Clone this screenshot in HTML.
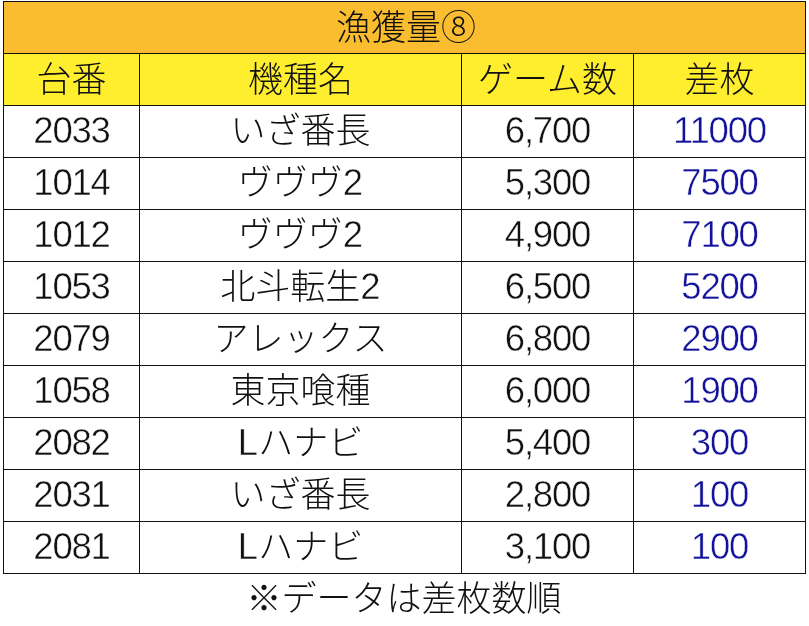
<!DOCTYPE html><html lang="ja"><head><meta charset="utf-8"><title>漁獲量⑧</title><style>
html,body{margin:0;padding:0;background:#fff;}
body{width:809px;height:626px;position:relative;overflow:hidden;font-family:"Liberation Sans","Noto Sans CJK JP",sans-serif;font-weight:300;color:#111;}
.c{position:absolute;box-sizing:border-box;border:1px solid #111;text-align:center;white-space:nowrap;font-size:35px;line-height:52px;height:53px;}
.t{background:#fbbd30;}
.h{background:#ffee2e;}
.b{color:#12129a;}
.d{line-height:50px;-webkit-text-stroke:0.5px #fff;font-size:36.5px;letter-spacing:-1.2px;}
.m{line-height:50px;}
.l{-webkit-text-stroke:0.5px #fff;font-size:36.5px;}
.n{position:absolute;left:0;width:808px;top:576px;height:50px;line-height:46px;text-align:center;font-size:35px;}
</style></head><body>
<div class="c t" style="left:3px;top:1px;width:803px;padding-left:3px;">漁獲量⑧</div>
<div class="c h" style="left:3px;top:53px;width:137px;">台番</div>
<div class="c h" style="left:139px;top:53px;width:323px;">機種名</div>
<div class="c h" style="left:461px;top:53px;width:173px;">ゲーム数</div>
<div class="c h" style="left:633px;top:53px;width:173px;">差枚</div>
<div class="c d" style="left:3px;top:105px;width:137px;">2033</div>
<div class="c m" style="left:139px;top:105px;width:323px;">いざ番長</div>
<div class="c d" style="left:461px;top:105px;width:173px;">6,700</div>
<div class="c b d" style="left:633px;top:105px;width:173px;">11000</div>
<div class="c d" style="left:3px;top:157px;width:137px;">1014</div>
<div class="c m" style="left:139px;top:157px;width:323px;">ヴヴヴ<span class="l">2</span></div>
<div class="c d" style="left:461px;top:157px;width:173px;">5,300</div>
<div class="c b d" style="left:633px;top:157px;width:173px;">7500</div>
<div class="c d" style="left:3px;top:209px;width:137px;">1012</div>
<div class="c m" style="left:139px;top:209px;width:323px;">ヴヴヴ<span class="l">2</span></div>
<div class="c d" style="left:461px;top:209px;width:173px;">4,900</div>
<div class="c b d" style="left:633px;top:209px;width:173px;">7100</div>
<div class="c d" style="left:3px;top:261px;width:137px;">1053</div>
<div class="c m" style="left:139px;top:261px;width:323px;">北斗転生<span class="l">2</span></div>
<div class="c d" style="left:461px;top:261px;width:173px;">6,500</div>
<div class="c b d" style="left:633px;top:261px;width:173px;">5200</div>
<div class="c d" style="left:3px;top:313px;width:137px;">2079</div>
<div class="c m" style="left:139px;top:313px;width:323px;">アレックス</div>
<div class="c d" style="left:461px;top:313px;width:173px;">6,800</div>
<div class="c b d" style="left:633px;top:313px;width:173px;">2900</div>
<div class="c d" style="left:3px;top:365px;width:137px;">1058</div>
<div class="c m" style="left:139px;top:365px;width:323px;">東京喰種</div>
<div class="c d" style="left:461px;top:365px;width:173px;">6,000</div>
<div class="c b d" style="left:633px;top:365px;width:173px;">1900</div>
<div class="c d" style="left:3px;top:417px;width:137px;">2082</div>
<div class="c m" style="left:139px;top:417px;width:323px;"><span class="l">L</span>ハナビ</div>
<div class="c d" style="left:461px;top:417px;width:173px;">5,400</div>
<div class="c b d" style="left:633px;top:417px;width:173px;">300</div>
<div class="c d" style="left:3px;top:469px;width:137px;">2031</div>
<div class="c m" style="left:139px;top:469px;width:323px;">いざ番長</div>
<div class="c d" style="left:461px;top:469px;width:173px;">2,800</div>
<div class="c b d" style="left:633px;top:469px;width:173px;">100</div>
<div class="c d" style="left:3px;top:521px;width:137px;">2081</div>
<div class="c m" style="left:139px;top:521px;width:323px;"><span class="l">L</span>ハナビ</div>
<div class="c d" style="left:461px;top:521px;width:173px;">3,100</div>
<div class="c b d" style="left:633px;top:521px;width:173px;">100</div>
<div class="n">※データは差枚数順</div>
</body></html>
